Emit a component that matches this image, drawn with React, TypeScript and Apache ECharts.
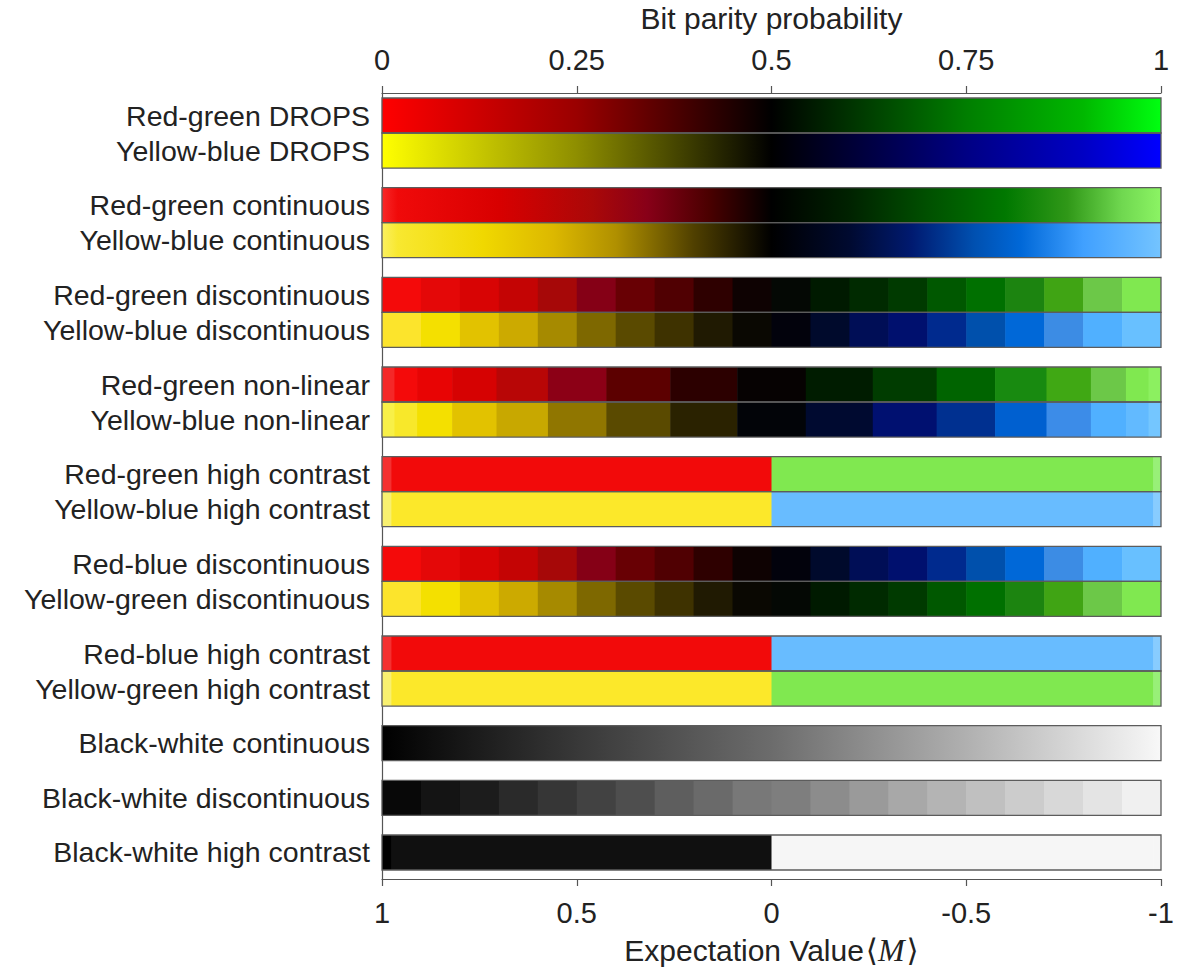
import React, { useEffect, useRef } from "react";
import * as echarts from "echarts";

// ---------- data ----------
const rowNames = [
  "Red-green DROPS",
  "Yellow-blue DROPS",
  "Red-green continuous",
  "Yellow-blue continuous",
  "Red-green discontinuous",
  "Yellow-blue discontinuous",
  "Red-green non-linear",
  "Yellow-blue non-linear",
  "Red-green high contrast",
  "Yellow-blue high contrast",
  "Red-blue discontinuous",
  "Yellow-green discontinuous",
  "Red-blue high contrast",
  "Yellow-green high contrast",
  "Black-white continuous",
  "Black-white discontinuous",
  "Black-white high contrast",
];
// group index of each row (rows of one group touch each other)
const rowGroup = [0, 0, 1, 1, 2, 2, 3, 3, 4, 4, 5, 5, 6, 6, 7, 8, 9];

const probTicks = [0, 0.25, 0.5, 0.75, 1];
const expTicks = [1, 0.5, 0, -0.5, -1];

// continuous colour maps: [position, colour]
const redGreenDrops: [number, string][] = [
  [0, "#ff0000"], [0.25, "#9a0000"], [0.5, "#000000"], [0.75, "#007e00"], [0.9, "#00b800"], [1, "#00ff10"],
];
const yellowBlueDrops: [number, string][] = [
  [0, "#ffff00"], [0.25, "#8e8e00"], [0.5, "#000000"], [0.75, "#000084"], [0.9, "#0000c4"], [1, "#0000ff"],
];
const redGreenCont: [number, string][] = [
  [0, "#f82828"], [0.02, "#f00a0a"], [0.15, "#d80000"], [0.27, "#aa0808"], [0.34, "#880018"],
  [0.42, "#4a0000"], [0.5, "#000000"], [0.6, "#002200"], [0.7, "#005000"], [0.8, "#007800"],
  [0.88, "#309818"], [0.95, "#70d850"], [1, "#8cf464"],
];
const yellowBlueCont: [number, string][] = [
  [0, "#fbf060"], [0.02, "#f8e830"], [0.13, "#f0d800"], [0.22, "#dcb800"], [0.3, "#b09000"],
  [0.4, "#504000"], [0.5, "#000000"], [0.6, "#000a30"], [0.68, "#001a70"], [0.76, "#0050b0"],
  [0.82, "#0068d8"], [0.9, "#40a0ff"], [1, "#74c4ff"],
];
const blackWhiteCont: [number, string][] = [
  [0, "#000000"], [0.25, "#383838"], [0.5, "#6c6c6c"], [0.75, "#b0b0b0"], [1, "#f8f8f8"],
];

// discontinuous colour maps
const uniformEdges = [0, 0.05, 0.1, 0.15, 0.2, 0.25, 0.3, 0.35, 0.4, 0.45, 0.5, 0.55, 0.6, 0.65, 0.7, 0.75, 0.8, 0.85, 0.9, 0.95, 1];
const redHalf = ["#f40a0a", "#e40808", "#d80404", "#c40404", "#a60808", "#850016", "#680004", "#500002", "#2e0000", "#0e0202"];
const yellowHalf = ["#fce42c", "#f4e000", "#e2c200", "#ccaa00", "#a68a00", "#7e6800", "#5a4a00", "#3e3200", "#201a02", "#0a0802"];
const greenHalf = ["#040804", "#001a00", "#002a00", "#003a00", "#005800", "#007000", "#1c8410", "#40a414", "#6cc848", "#80e850"];
const blueHalf = ["#02020c", "#000a2c", "#000e56", "#00106e", "#002a8e", "#0050ac", "#0068d8", "#3c8ce4", "#50b0ff", "#68c0ff"];
const grayDisc = ["#080808", "#141414", "#1c1c1c", "#2a2a2a", "#363636", "#424242", "#4e4e4e", "#5e5e5e", "#6a6a6a", "#787878",
  "#7e7e7e", "#8c8c8c", "#9a9a9a", "#a8a8a8", "#b4b4b4", "#c0c0c0", "#cccccc", "#d8d8d8", "#e4e4e4", "#f0f0f0"];

const nonLinearEdges = [0, 0.016, 0.045, 0.09, 0.147, 0.213, 0.288, 0.37, 0.456, 0.544, 0.63, 0.712, 0.787, 0.853, 0.91, 0.955, 0.984, 1];
const redGreenNonLin = ["#f42828", "#f40a0a", "#e80404", "#d60202", "#b80606", "#8c0016", "#5c0000", "#2c0000", "#060202",
  "#001c00", "#003c00", "#006400", "#188a10", "#40a814", "#6cc848", "#80e850", "#8cf060"];
const yellowBlueNonLin = ["#f8f048", "#f8e82a", "#f4e000", "#e2c200", "#c8a800", "#907600", "#5a4a00", "#2a2200", "#020408",
  "#000a30", "#001070", "#003090", "#0060d0", "#3c8ce8", "#50b0ff", "#62baff", "#74c6ff"];

const highContrastEdges = [0, 0.012, 0.5, 0.99, 1];
const redGreenHC = ["#f43030", "#f20a0a", "#80e850", "#98f078"];
const yellowBlueHC = ["#f8f070", "#fce82a", "#68bcff", "#88ccff"];
const redBlueHC = ["#f43030", "#f20a0a", "#68bcff", "#88ccff"];
const yellowGreenHC = ["#f8f070", "#fce82a", "#80e850", "#98f078"];
const blackWhiteHC = ["#000000", "#101010", "#f6f6f6", "#f6f6f6"];

type RowSpec = { stops?: [number, string][]; edges?: number[]; colors?: string[] };
const rowSpecs: RowSpec[] = [
  { stops: redGreenDrops },
  { stops: yellowBlueDrops },
  { stops: redGreenCont },
  { stops: yellowBlueCont },
  { edges: uniformEdges, colors: [...redHalf, ...greenHalf] },
  { edges: uniformEdges, colors: [...yellowHalf, ...blueHalf] },
  { edges: nonLinearEdges, colors: redGreenNonLin },
  { edges: nonLinearEdges, colors: yellowBlueNonLin },
  { edges: highContrastEdges, colors: redGreenHC },
  { edges: highContrastEdges, colors: yellowBlueHC },
  { edges: uniformEdges, colors: [...redHalf, ...blueHalf] },
  { edges: uniformEdges, colors: [...yellowHalf, ...greenHalf] },
  { edges: highContrastEdges, colors: redBlueHC },
  { edges: highContrastEdges, colors: yellowGreenHC },
  { stops: blackWhiteCont },
  { edges: uniformEdges, colors: grayDisc },
  { edges: highContrastEdges, colors: blackWhiteHC },
];

// ---------- layout (in bar-height units) ----------
const TOP_PAD = 0.143;
const GAP = 0.561;
const BOTTOM_PAD = 0.257;
const rowTops = rowNames.map((_, i) => TOP_PAD + i + rowGroup[i] * GAP);
const yMax = rowTops[rowTops.length - 1] + 1 + BOTTOM_PAD;
const rowCenters = rowTops.map((t) => t + 0.5);

const FONT = "Liberation Sans, Arial, Helvetica, sans-serif";
const TEXT = "#222222";
const AXIS = "#555555";

export default function App() {
  const ref = useRef<HTMLDivElement>(null);
  useEffect(() => {
    if (!ref.current) return;
    const chart = echarts.init(ref.current, undefined, { renderer: "svg" });

    const segData: any[] = [];
    rowSpecs.forEach((spec, row) => {
      if (spec.stops) {
        segData.push({
          value: [0, 1, row],
          itemStyle: {
            color: new echarts.graphic.LinearGradient(
              0, 0, 1, 0,
              spec.stops.map(([offset, color]) => ({ offset, color }))
            ),
          },
        });
      } else if (spec.edges && spec.colors) {
        spec.colors.forEach((c, k) => {
          segData.push({ value: [spec.edges![k], spec.edges![k + 1], row], itemStyle: { color: c } });
        });
      }
    });
    const outlineData = rowNames.map((_, row) => [0, 1, row]);

    const rectFor = (api: any) => {
      const x0 = api.value(0);
      const x1 = api.value(1);
      const row = api.value(2);
      const top = rowTops[row];
      const p1 = api.coord([x0, top]);
      const p2 = api.coord([x1, top + 1]);
      return { x: p1[0], y: p1[1], width: p2[0] - p1[0], height: p2[1] - p1[1], x1v: x1 };
    };

    const option: any = {
      animation: false,
      backgroundColor: "#ffffff",
      textStyle: { fontFamily: FONT },
      grid: { left: 382, right: 16, top: 93, bottom: 95, containLabel: false, outerBoundsMode: "none" },
      xAxis: [
        {
          type: "value",
          position: "top",
          min: 0,
          max: 1,
          interval: 0.25,
          name: "Bit parity probability",
          nameLocation: "middle",
          nameGap: 60,
          nameMoveOverlap: false,
          nameTextStyle: { fontSize: 30, color: TEXT, fontFamily: FONT },
          axisLine: { show: true, lineStyle: { color: AXIS, width: 1.2 } },
          axisTick: { show: true, length: 7, lineStyle: { color: AXIS, width: 1.2 }, customValues: probTicks },
          axisLabel: {
            fontSize: 29,
            color: TEXT,
            margin: 19,
            fontFamily: FONT,
            customValues: probTicks,
            formatter: (v: number) => String(v),
          },
          splitLine: { show: false },
        },
        {
          type: "value",
          position: "bottom",
          min: -1,
          max: 1,
          interval: 0.5,
          inverse: true,
          name: "Expectation Value{a|⟨}{m|M}{a|⟩}",
          nameLocation: "middle",
          nameGap: 55,
          nameMoveOverlap: false,
          nameTextStyle: {
            fontSize: 30,
            color: TEXT,
            fontFamily: FONT,
            rich: {
              a: { fontSize: 31, color: TEXT, fontFamily: "DejaVu Serif", padding: [0, 0, 0, 2] },
              m: { fontSize: 32, color: TEXT, fontFamily: "Liberation Serif", fontStyle: "italic" },
            },
          },
          axisLine: { show: true, lineStyle: { color: AXIS, width: 1.2 } },
          axisTick: { show: true, length: 7, lineStyle: { color: AXIS, width: 1.2 }, customValues: expTicks },
          axisLabel: {
            fontSize: 29,
            color: TEXT,
            margin: 19,
            fontFamily: FONT,
            customValues: expTicks,
            formatter: (v: number) => String(v),
          },
          splitLine: { show: false },
        },
      ],
      yAxis: {
        type: "value",
        min: 0,
        max: yMax,
        inverse: true,
        axisLine: { show: true, lineStyle: { color: AXIS, width: 1.2 } },
        axisTick: { show: false },
        splitLine: { show: false },
        axisLabel: {
          fontSize: 28.5,
          color: TEXT,
          margin: 12,
          fontFamily: FONT,
          customValues: rowCenters,
          formatter: (v: number) => {
            const i = rowCenters.findIndex((c) => Math.abs(c - v) < 1e-6);
            return i >= 0 ? rowNames[i] : "";
          },
        },
      },
      series: [
        {
          type: "custom",
          xAxisIndex: 0,
          yAxisIndex: 0,
          data: segData,
          renderItem: (params: any, api: any) => {
            const r = rectFor(api);
            const extra = r.x1v < 1 ? 0.6 : 0;
            return {
              type: "rect",
              shape: { x: r.x, y: r.y, width: r.width + extra, height: r.height },
              style: { fill: api.visual("color"), stroke: null },
            };
          },
        },
        {
          type: "custom",
          xAxisIndex: 0,
          yAxisIndex: 0,
          data: outlineData,
          silent: true,
          renderItem: (params: any, api: any) => {
            const r = rectFor(api);
            return {
              type: "rect",
              shape: { x: r.x, y: r.y, width: r.width, height: r.height },
              style: { fill: "none", stroke: "#5c5c5c", lineWidth: 1.3 },
            };
          },
        },
      ],
    };
    chart.setOption(option);
    return () => chart.dispose();
  }, []);
  return (
    <div
      ref={ref}
      style={{ position: "fixed", left: 0, top: 0, width: 1177, height: 974, background: "#fff" }}
    />
  );
}
